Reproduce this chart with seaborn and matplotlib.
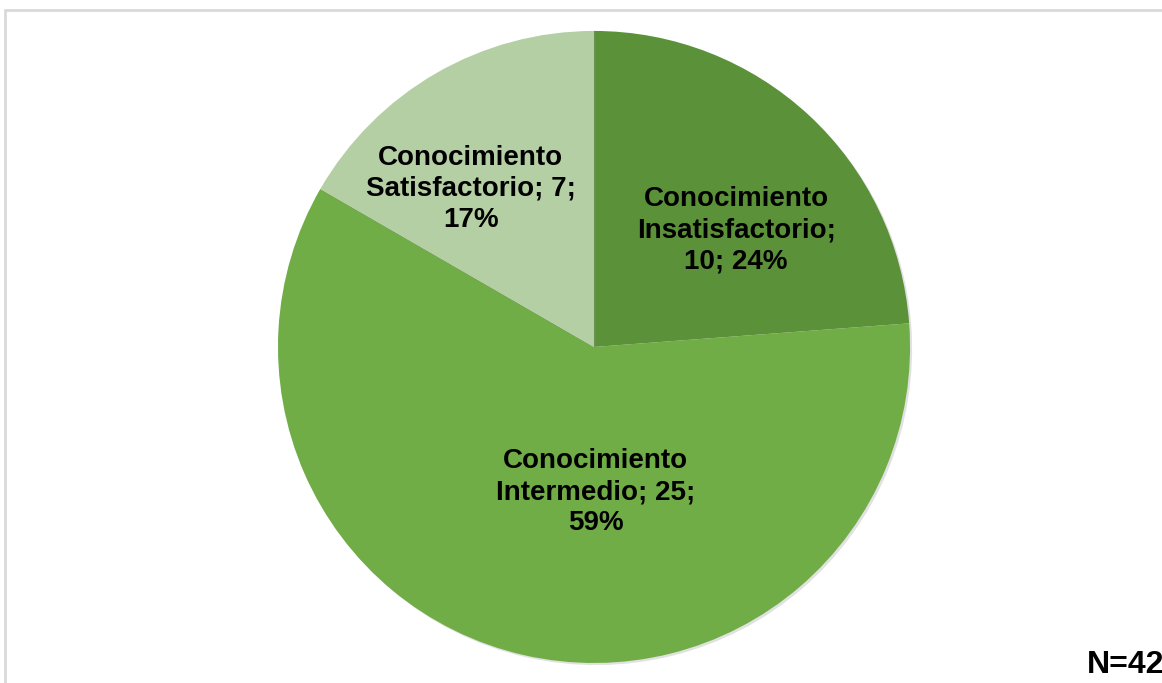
import matplotlib
matplotlib.use("Agg")
import matplotlib.pyplot as plt
import matplotlib.patheffects as pe
from matplotlib.patches import Rectangle
import seaborn as sns

categories = ["Insatisfactorio", "Intermedio", "Satisfactorio"]
counts = [10, 25, 7]
percents = [24, 59, 17]
colors = ["#5B9138", "#70AD47", "#B5CFA4"]
total_label = "N=42"

# line-break layout of each data label
label_templates = [
    "Conocimiento\n{cat};\n{n}; {pct}%",
    "Conocimiento\n{cat}; {n};\n{pct}%",
    "Conocimiento\n{cat}; {n};\n{pct}%",
]

sns.set_theme(style="white")
plt.rcParams["font.family"] = ["Liberation Sans", "DejaVu Sans"]

fig = plt.figure(figsize=(11.62, 6.83), dpi=100)
fig.patch.set_facecolor("white")

# light frame around the chart area
fig.patches.append(Rectangle((5 / 1162, -0.02), 1.2, 1 - 10 / 683 + 0.02,
                             transform=fig.transFigure, fill=False,
                             edgecolor="#D9D9D9", linewidth=2))

ax = fig.add_axes([0.5112 - 0.2720, 0.492 - 0.4627, 0.5440, 0.9254])
wedges, _ = ax.pie(counts, colors=colors, startangle=90, counterclock=False,
                   radius=1.0, wedgeprops=dict(linewidth=0))
for w in wedges:
    w.set_path_effects([pe.SimplePatchShadow(offset=(1.5, -1.5), shadow_rgbFace="#888888", alpha=0.25),
                        pe.Normal()])
ax.set_xlim(-1, 1)
ax.set_ylim(-1, 1)
ax.set_aspect("equal")
ax.axis("off")

label_pos = [(0.45, 0.37), (0.006, -0.46), (-0.39, 0.50)]
for cat, n, pct, tmpl, (x, y) in zip(categories, counts, percents, label_templates, label_pos):
    txt = tmpl.format(cat=cat, n=n, pct=pct)
    ax.text(x, y, txt, ha="center", va="center", fontsize=20, fontweight="bold",
            color="black", linespacing=1.25)

fig.text(1164 / 1162, 1 - 665 / 683, total_label, ha="right", va="center",
         fontsize=23, fontweight="bold", color="black")

fig.savefig("out.png", dpi=100, facecolor="white")
